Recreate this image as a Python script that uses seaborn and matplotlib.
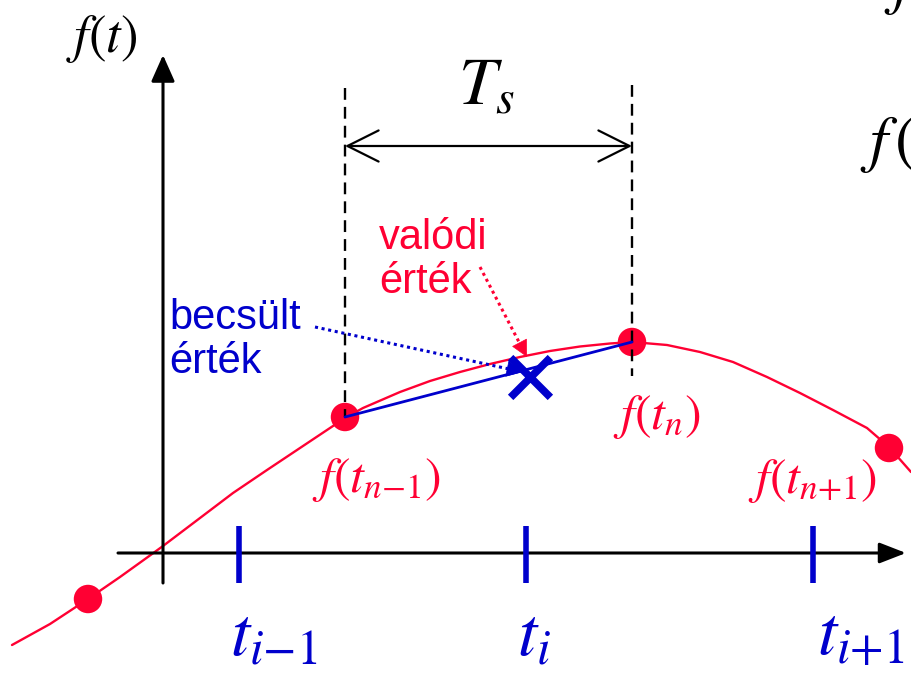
import matplotlib
matplotlib.use("Agg")
import matplotlib.pyplot as plt
import seaborn as sns

# ---- data (pixel-like coordinates, y grows downward) ----
curve_x = [12, 50, 88, 120, 152, 163, 200, 233, 267, 300, 333, 345, 363, 400, 430,
           460, 490, 520, 550, 580, 610, 632, 667, 700, 733, 767, 800, 833, 867, 889, 911]
curve_y = [645, 624, 599, 577, 554, 546, 518, 493, 470, 448, 426, 418, 408, 392, 381,
           372, 364, 357, 351, 346.5, 343.5, 342, 345, 352, 362, 377, 393, 410, 428, 447, 472]
sample_x = [88, 345, 632, 889]
sample_y = [599, 417, 342, 448]
estimate_x = [530]
estimate_y = [377]
tick_x = [239, 526, 813]
tick_labels = [r"$t_{i{-}1}$", r"$t_i$", r"$t_{i{+}1}$"]
sample_labels = [r"$f(t_{n{-}1})$", r"$f(t_n)$", r"$f(t_{n{+}1})$"]

RED = "#FF0033"
BLUE = "#0000CC"

sns.set_theme(style="white")
plt.rcParams["mathtext.fontset"] = "stix"
plt.rcParams["font.family"] = ["Liberation Sans", "DejaVu Sans"]

fig = plt.figure(figsize=(9.11, 6.78), dpi=100)
ax = fig.add_axes([0, 0, 1, 1])
ax.set_xlim(0, 911)
ax.set_ylim(678, 0)
ax.axis("off")

# axes (coordinate system)
ax.annotate("", xy=(906, 553), xytext=(118, 553),
            arrowprops=dict(arrowstyle="-|>,head_length=0.9,head_width=0.35",
                            color="black", lw=2.2, mutation_scale=18, shrinkA=0, shrinkB=0))
ax.annotate("", xy=(163, 55), xytext=(163, 583),
            arrowprops=dict(arrowstyle="-|>,head_length=0.9,head_width=0.4",
                            color="black", lw=2.2, mutation_scale=18, shrinkA=0, shrinkB=0))

# blue ticks on time axis
for tx in tick_x:
    ax.plot([tx, tx], [526, 583], color=BLUE, lw=4, solid_capstyle="butt", zorder=3)
tick_label_left = [230, 517, 817]
for lx, lab in zip(tick_label_left, tick_labels):
    ax.text(lx, 655, lab, color=BLUE, fontsize=50, ha="left", va="baseline")

# red curve and samples
sns.lineplot(x=curve_x, y=curve_y, sort=False, estimator=None, color=RED, lw=1.7, ax=ax, zorder=2)
sns.scatterplot(x=sample_x, y=sample_y, color=RED, s=420, edgecolor="none", ax=ax, zorder=3)

# dashed verticals
ax.plot([sample_x[1], sample_x[1]], [88, sample_y[1]], color="black", lw=1.7, ls=(0, (5, 3)), zorder=4)
ax.plot([sample_x[2], sample_x[2]], [85, 376], color="black", lw=1.7, ls=(0, (5, 3)), zorder=4)

# Ts double arrow
ax.annotate("", xy=(sample_x[2], 146), xytext=(sample_x[1], 146),
            arrowprops=dict(arrowstyle="<->,head_length=0.8,head_width=0.4",
                            color="black", lw=1.6, mutation_scale=28, shrinkA=0, shrinkB=0))
ax.text(458, 105, r"$T_s$", fontsize=49, color="black", ha="left", va="baseline")

# blue chord + estimate
sns.lineplot(x=sample_x[1:3], y=sample_y[1:3], sort=False, estimator=None, color=BLUE, lw=2, ax=ax, zorder=5)
ax.scatter(estimate_x, estimate_y, marker="x", s=820, color=BLUE, linewidths=5.5, zorder=6)

# dotted pointer arrows (dotted shaft + solid head)
ax.plot([315, 509], [327, 369], color=BLUE, lw=2.2, ls=(0, (1, 1.2)), zorder=6)
ax.annotate("", xy=(523, 372), xytext=(508, 368.8),
            arrowprops=dict(arrowstyle="-|>,head_length=0.55,head_width=0.28",
                            color=BLUE, lw=0.5, mutation_scale=20, shrinkA=0, shrinkB=0), zorder=6)
ax.plot([480, 520], [267, 344], color=RED, lw=2.2, ls=(0, (1, 1.2)), zorder=6)
ax.annotate("", xy=(527, 357), xytext=(520.5, 344.6),
            arrowprops=dict(arrowstyle="-|>,head_length=0.55,head_width=0.28",
                            color=RED, lw=0.5, mutation_scale=20, shrinkA=0, shrinkB=0), zorder=6)

ax.text(379, 293, "valódi\nérték", color=RED, fontsize=30, ha="left", va="baseline",
        linespacing=1.12, multialignment="left")
ax.text(169, 373, "becsült\nérték", color=BLUE, fontsize=30, ha="left", va="baseline",
        linespacing=1.12, multialignment="left")

# sample labels
label_pos = [(312, 492), (613, 429), (748, 493)]
for (lx, ly), lab in zip(label_pos, sample_labels):
    ax.text(lx, ly, lab, color=RED, fontsize=36, ha="left", va="baseline")

# f(t) axis label
ax.text(66, 52, r"$f(t)$", color="black", fontsize=38, ha="left", va="baseline")

# cropped formula on the right (cut by the frame edge, as in the reference)
ax.text(860, 160, r"$f\,($", color="black", fontsize=46, ha="left", va="baseline")
ax.text(884, 2, r"$f$", color="black", fontsize=46, ha="left", va="baseline")

fig.savefig("out.png", dpi=100)
